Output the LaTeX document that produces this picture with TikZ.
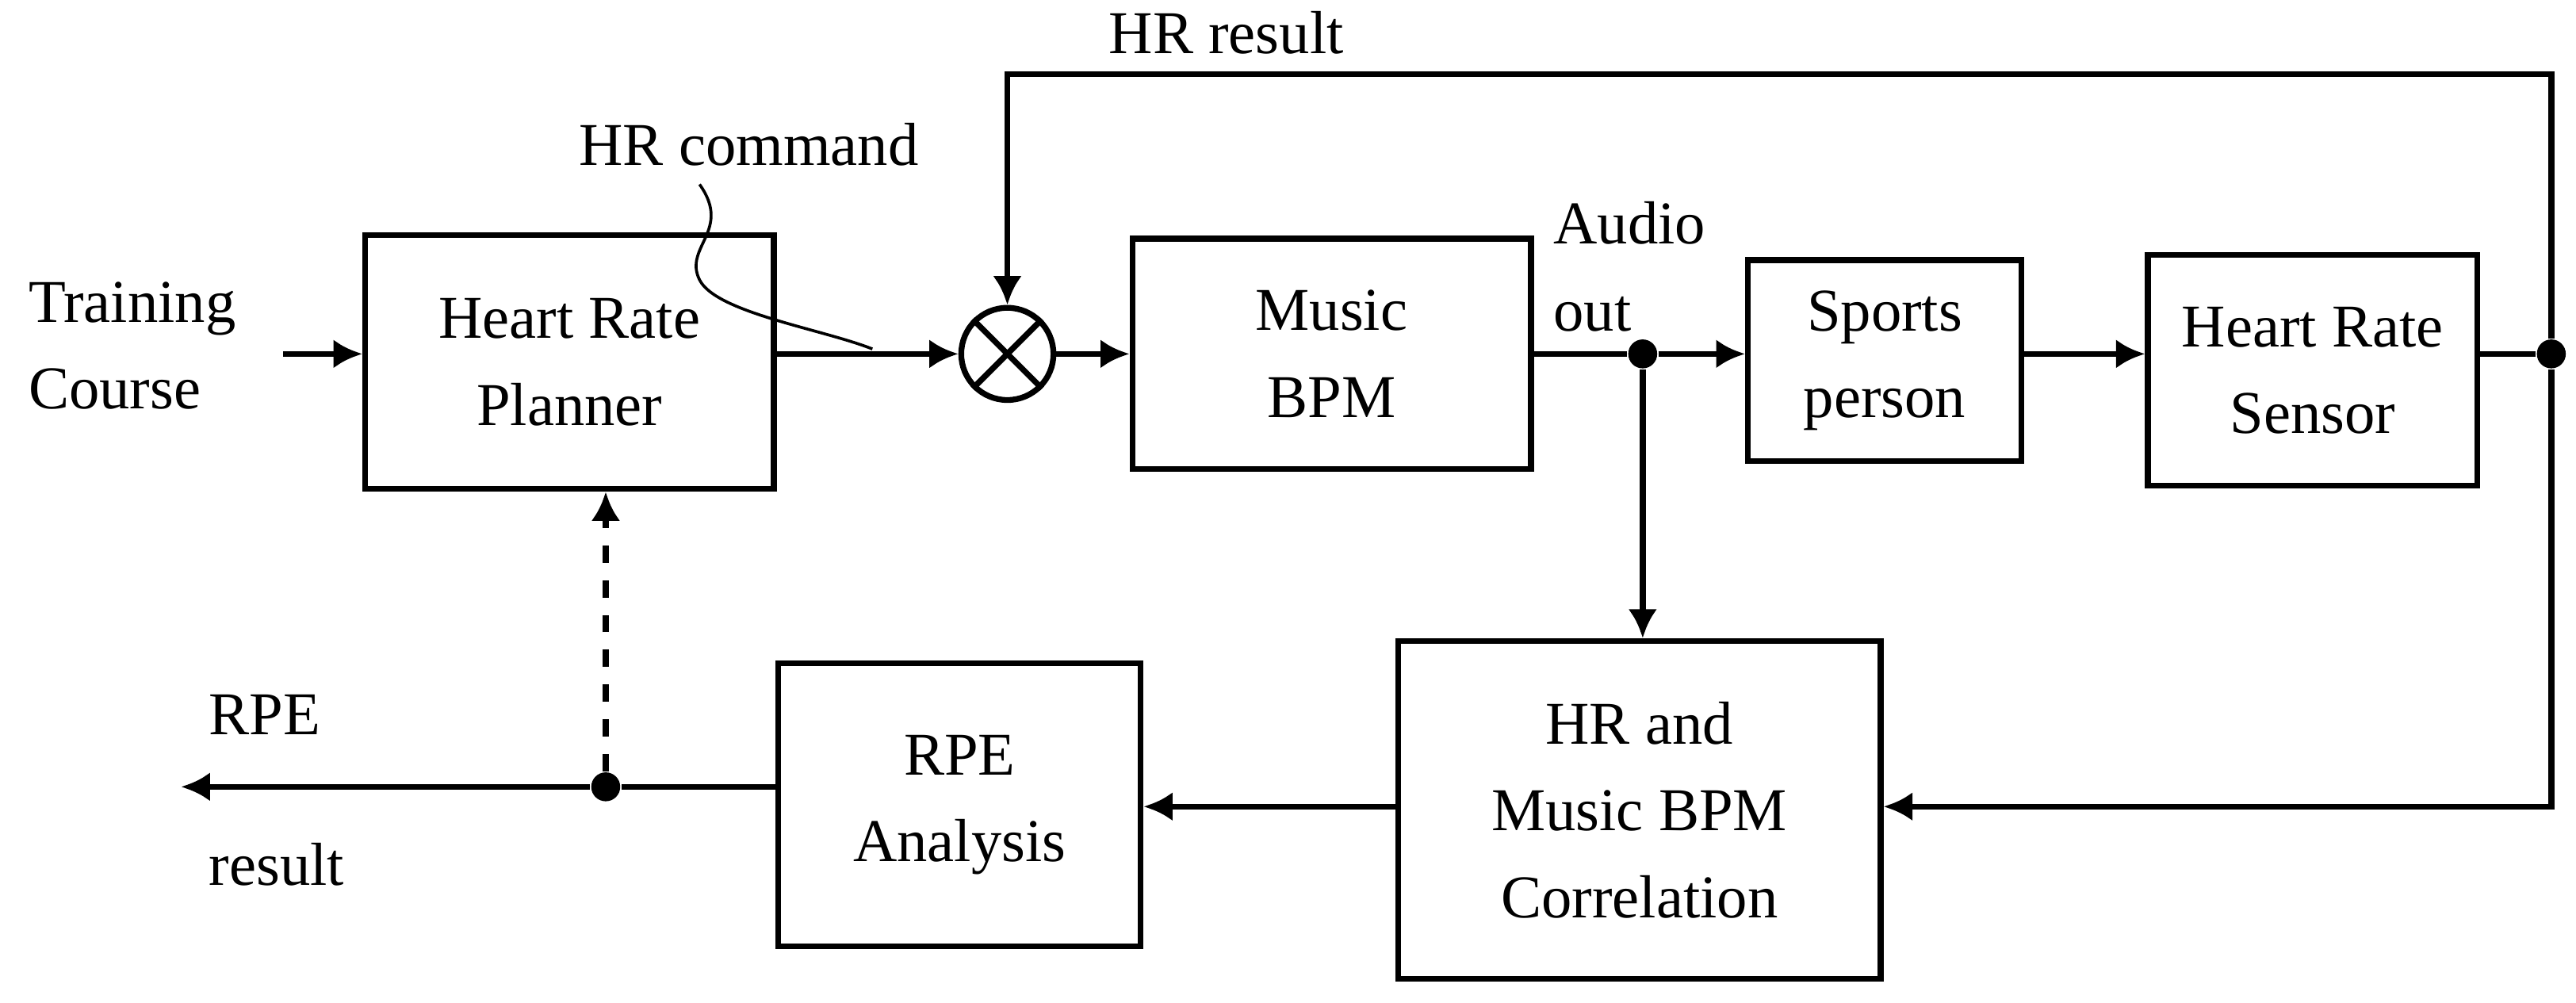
\documentclass[tikz,border=0pt]{standalone}
\usepackage{fontspec}
\setmainfont{Liberation Serif}
\usetikzlibrary{arrows.meta,decorations.pathmorphing}
\begin{document}
\begin{tikzpicture}[x=0.01cm,y=-0.01cm,
  font=\fontsize{10.5}{15}\selectfont,
  box/.style={draw,line width=1pt,align=center,inner sep=0pt},
  ln/.style={line width=1pt},
  arr/.style={ln,-{Latex[length=5pt,width=5pt]}},
  dot/.style={circle,fill,inner sep=0pt,minimum size=5pt}]
\useasboundingbox (0,0) rectangle (1565,609);
\node[box,minimum width=2.48cm,minimum height=1.54cm] (hrp) at (346,220) {Heart Rate\\Planner};
\node[draw,circle,line width=1pt,minimum size=0.56cm,inner sep=0pt] (sum) at (612,215) {};
\draw[line width=1pt] (sum.north west)--(sum.south east) (sum.north east)--(sum.south west);
\node[box,minimum width=2.42cm,minimum height=1.40cm] (bpm) at (809,215) {Music\\BPM};
\node[box,minimum width=1.66cm,minimum height=1.22cm] (sp) at (1145,219) {Sports\\person};
\node[box,minimum width=2.00cm,minimum height=1.40cm] (sen) at (1405,225) {Heart Rate\\Sensor};
\node[box,minimum width=2.93cm,minimum height=2.05cm] (cor) at (996,492) {HR and\\Music BPM\\Correlation};
\node[box,minimum width=2.20cm,minimum height=1.72cm] (rpe) at (583,489) {RPE\\Analysis};
\node[align=left,anchor=west] (tc) at (5,210) {Training\\Course};
\coordinate (tcs) at (172,215);
\draw[arr] (tcs) -- (hrp.west |- tcs);
\draw[arr] (hrp.east |- sum) -- (sum.west);
\draw[arr] (sum.east) -- (bpm.west);
\node[dot] (ja) at (998,215) {};
\draw[ln] (bpm.east |- ja) -- (ja);
\draw[arr] (ja) -- (sp.west |- ja);
\draw[arr] (sp.east |- ja) -- (sen.west |- ja);
\draw[arr] (ja) -- (ja |- cor.north);
\node[dot] (jb) at (1550,215) {};
\draw[ln] (sen.east |- jb) -- (jb);
\coordinate (tr) at (1550,45);
\coordinate (tl) at (612,45);
\draw[arr] (jb) -- (tr) -- (tl) -- (sum.north);
\coordinate (br) at (1550,490);
\draw[arr] (jb) -- (br) -- (cor.east |- br);
\draw[arr] (cor.west |- br) -- (rpe.east |- br);
\node[dot] (jc) at (368,478) {};
\coordinate (re) at (110,478);
\draw[ln] (rpe.west |- jc) -- (jc);
\draw[arr] (jc) -- (re);
\draw[arr,dashed] (jc) -- (jc |- hrp.south);
\node (hrr) at (745,20) {HR result};
\node (hrc) at (455,88) {HR command};
\node[align=left] (ao) at (990,162) {Audio\\out};
\node[align=left] (rr) at (168,480) {RPE\\\\[-4pt]result};
\draw[line width=0.5pt] (425,112) .. controls (445,140) and (415,150) .. (425,170) .. controls (435,190) and (500,200) .. (530,212);
\end{tikzpicture}
\end{document}
